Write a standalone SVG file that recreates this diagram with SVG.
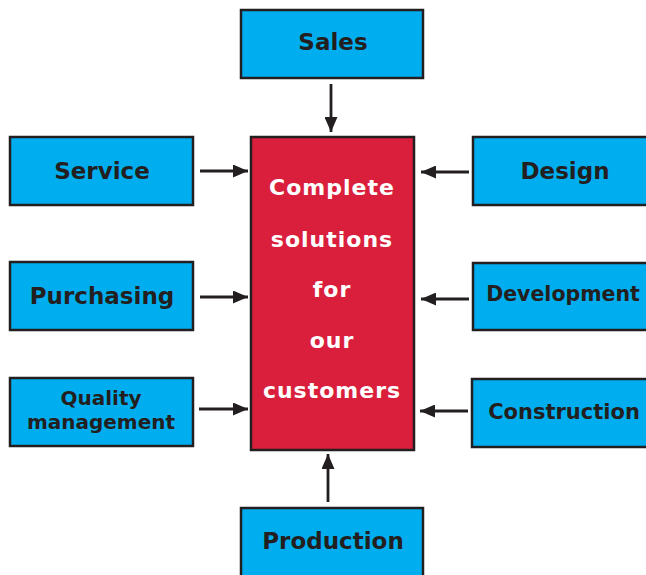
<svg xmlns="http://www.w3.org/2000/svg" width="646" height="575" viewBox="0 0 646 575">
<style>
.box{fill:#00AEEF;stroke:#231F20;stroke-width:2.5}
.core{fill:#DA1F3D;stroke:#231F20;stroke-width:2.5}
.lbl{font-family:"DejaVu Sans",sans-serif;font-weight:bold;fill:#231F20;text-anchor:middle}
.ctr{font-family:"DejaVu Sans",sans-serif;font-weight:bold;fill:#FFFFFF;text-anchor:middle;font-size:22px;letter-spacing:1px}
.con{stroke:#231F20;stroke-width:2.8;fill:none;marker-end:url(#ah)}
</style>
<defs>
<marker id="ah" viewBox="0 0 15 13" refX="15" refY="6.5" markerWidth="15" markerHeight="13" markerUnits="userSpaceOnUse" orient="auto">
<path d="M0,0 L15,6.5 L0,13 Z" fill="#231F20"/>
</marker>
</defs>
<rect width="646" height="575" fill="#FFFFFF"/>
<g id="connectors">
<line class="con" x1="331" y1="84" x2="331" y2="132"/>
<line class="con" x1="200" y1="171" x2="248" y2="171"/>
<line class="con" x1="469" y1="172" x2="421" y2="172"/>
<line class="con" x1="200" y1="297" x2="248" y2="297"/>
<line class="con" x1="469" y1="299" x2="421" y2="299"/>
<line class="con" x1="199" y1="409" x2="248" y2="409"/>
<line class="con" x1="468" y1="411" x2="420" y2="411"/>
<line class="con" x1="328" y1="502" x2="328" y2="454"/>
</g>
<g id="center">
<rect class="core" x="251" y="137" width="163" height="313"/>
<text class="ctr" x="332" y="195">Complete</text>
<text class="ctr" x="332" y="247">solutions</text>
<text class="ctr" x="332" y="297">for</text>
<text class="ctr" x="332" y="348">our</text>
<text class="ctr" x="332" y="398">customers</text>
</g>
<g id="sales">
<rect class="box" x="241" y="10" width="182" height="68"/>
<text class="lbl" x="333" y="50" font-size="23">Sales</text>
</g>
<g id="service">
<rect class="box" x="10" y="137" width="183" height="68"/>
<text class="lbl" x="102" y="179" font-size="23">Service</text>
</g>
<g id="design">
<rect class="box" x="473" y="137" width="190" height="68"/>
<text class="lbl" x="565" y="179" font-size="23">Design</text>
</g>
<g id="purchasing">
<rect class="box" x="10" y="262" width="183" height="68"/>
<text class="lbl" x="102" y="304" font-size="23">Purchasing</text>
</g>
<g id="development">
<rect class="box" x="473" y="263" width="190" height="67"/>
<text class="lbl" x="563" y="301" font-size="20.5">Development</text>
</g>
<g id="quality">
<rect class="box" x="10" y="378" width="183" height="68"/>
<text class="lbl" x="101" y="405" font-size="20">Quality</text>
<text class="lbl" x="101" y="429" font-size="20">management</text>
</g>
<g id="construction">
<rect class="box" x="472" y="379" width="190" height="68"/>
<text class="lbl" x="564" y="419" font-size="21">Construction</text>
</g>
<g id="production">
<rect class="box" x="241" y="508" width="182" height="80"/>
<text class="lbl" x="333" y="549" font-size="23">Production</text>
</g>
</svg>
